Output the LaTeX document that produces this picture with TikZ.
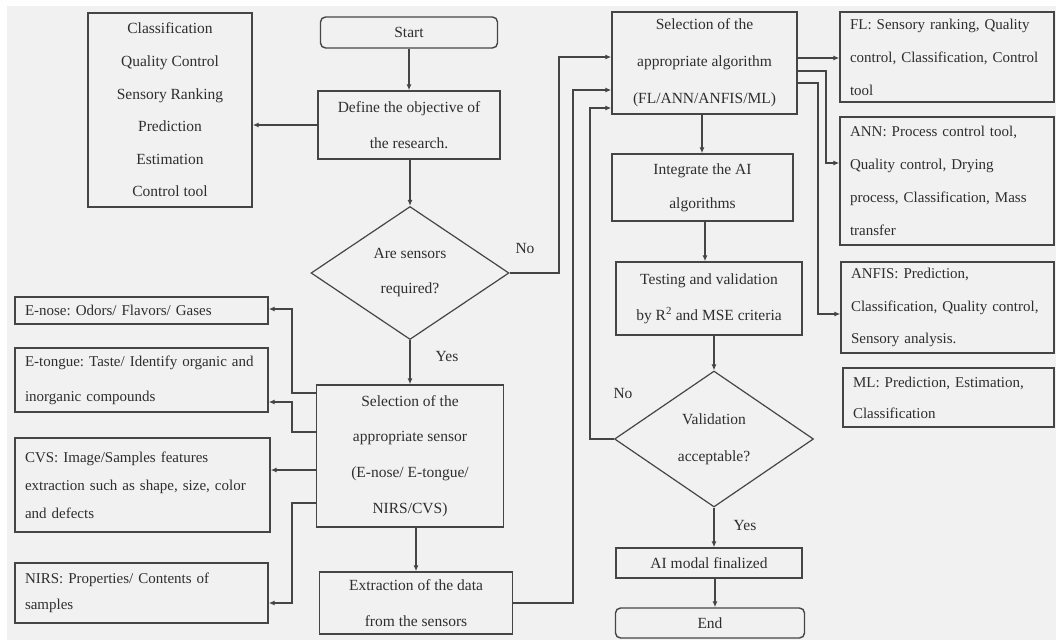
\documentclass[tikz,border=0pt]{standalone}
\usepackage{fontspec}
\setmainfont{Liberation Serif}
\usetikzlibrary{shapes.geometric,arrows.meta}
\definecolor{bgc}{HTML}{F1F1F1}
\definecolor{linec}{HTML}{454545}
\definecolor{txtc}{HTML}{2E2E2E}
\frenchspacing
\hyphenpenalty=10000
\tikzset{
  lsp/.style={font=\fontsize{15.5}{#1}\selectfont},
  lspl/.style={font=\fontsize{15}{#1}\selectfont},
  box/.style={draw=linec, line width=1.4pt, rectangle, inner sep=0pt, text=txtc, align=center},
  lbox/.style={box, align=left, inner xsep=10pt},
  term/.style={box, rounded corners=5pt},
  dec/.style={draw=linec, line width=1.2pt, diamond, inner sep=0pt, text=txtc, align=center},
  arr/.style={draw=linec, line width=1.2pt, -{Latex[length=6pt,width=5pt]}},
  lab/.style={text=txtc, font=\fontsize{15.5}{18}\selectfont, inner sep=2pt}
}
\begin{document}
\begin{tikzpicture}[x=1pt,y=-1pt]
\fill[white] (0,0) rectangle (1056,640);
\fill[bgc] (7,6) rectangle (1056,640);
\useasboundingbox (0,0) rectangle (1056,640);

% left column
\node[box, lsp=32.6, minimum width=164pt, minimum height=194pt] (cls) at (170,110)
  {Classification\\Quality Control\\Sensory Ranking\\Prediction\\Estimation\\Control tool};
\node[term, lsp=18, minimum width=177pt, minimum height=31pt] (start) at (409,32.5) {Start};
\node[box, lsp=36, minimum width=182pt, minimum height=68pt] (define) at (409,125)
  {Define the objective of\\the research.};
\node[dec, lsp=35, minimum width=198pt, minimum height=133pt, aspect=1.49] (q1) at (410,273)
  {Are sensors\\required?};
\node[box, lsp=35.7, minimum width=187pt, minimum height=142pt] (sensor) at (410,456)
  {Selection of the\\appropriate sensor\\(E-nose/ E-tongue/\\NIRS/CVS)};
\node[box, lsp=36, minimum width=193pt, minimum height=62pt] (extract) at (416,603)
  {Extraction of the data\\from the sensors};

\node[lbox, lspl=18, text width=233pt, minimum height=27pt] (enose) at (141.5,310.5)
  {E-nose: Odors/ Flavors/ Gases};
\node[lbox, lspl=35, text width=233pt, minimum height=64pt] (etongue) at (141.5,380)
  {E-tongue: Taste/ Identify organic and\\inorganic compounds};
\node[lbox, lspl=28, text width=235pt, minimum height=94pt] (cvs) at (142.5,485)
  {CVS: Image/Samples features\\extraction such as shape, size, color\\and defects};
\node[lbox, lspl=26, text width=233pt, minimum height=60pt] (nirs) at (141.5,593)
  {NIRS: Properties/ Contents of\\samples};

% middle column
\node[box, lsp=37, minimum width=185pt, minimum height=102pt] (alg) at (704.5,63)
  {Selection of the\\appropriate algorithm\\(FL/ANN/ANFIS/ML)};
\node[box, lsp=34, minimum width=181pt, minimum height=67pt] (integ) at (702.5,187.5)
  {Integrate the AI\\algorithms};
\node[box, lsp=36, minimum width=186pt, minimum height=73pt] (test) at (709,298.5)
  {Testing and validation\\by R\textsuperscript{2} and MSE criteria};
\node[dec, lsp=37, minimum width=199pt, minimum height=136pt, aspect=1.46] (q2) at (714,439)
  {Validation\\acceptable?};
\node[box, lsp=18, minimum width=186pt, minimum height=30pt] (final) at (709,563)
  {AI modal finalized};
\node[term, lsp=18, minimum width=189pt, minimum height=30pt] (end) at (710,623) {End};

% right column
\node[lbox, lspl=33, text width=194pt, minimum height=90pt] (fl) at (947,57)
  {FL: Sensory ranking, Quality\\control, Classification, Control\\tool};
\node[lbox, lspl=33, text width=194pt, minimum height=128pt] (ann) at (947,181)
  {ANN: Process control tool,\\Quality control, Drying\\process, Classification, Mass\\transfer};
\node[lbox, lspl=32.5, text width=193pt, minimum height=91pt] (anfis) at (947.5,307.5)
  {ANFIS: Prediction,\\Classification, Quality control,\\Sensory analysis.};
\node[lbox, lspl=31, text width=191pt, minimum height=59pt] (ml) at (948.5,397.5)
  {ML: Prediction, Estimation,\\Classification};

% labels
\node[lab] (no1) at (525,248) {No};
\node[lab] (yes1) at (447,356) {Yes};
\node[lab] (no2) at (623,393) {No};
\node[lab] (yes2) at (745,525) {Yes};

% connectors
\draw[arr] (start) -- (define);
\draw[arr] (define.west) -- (cls.east |- define.west);
\draw[arr] (q1.north |- define.south) -- (q1.north);
\draw[arr] (q1.east) -- (559,273) -- (559,57) -- (alg.west |- 0,57);
\draw[arr] (q1.south) -- (sensor.north);
\draw[arr] (extract.north |- sensor.south) -- (extract.north);
\draw[arr] (extract.east) -- (573,603) -- (573,90) -- (alg.west |- 0,90);
\draw[arr] (q2.west) -- (590,439) -- (590,108) -- (alg.west |- 0,108);
\draw[arr] (alg.south -| 702,0) -- (integ.north -| 702,0);
\draw[arr] (integ.south -| 705,0) -- (test.north -| 705,0);
\draw[arr] (test.south -| q2.north) -- (q2.north);
\draw[arr] (q2.south) -- (final.north -| q2.south);
\draw[arr] (final.south -| 715,0) -- (end.north -| 715,0);

\draw[arr] (alg.east |- 0,58) -- (fl.west |- 0,58);
\draw[arr] (alg.east |- 0,71) -- (826,71) -- (826,163) -- (ann.west |- 0,163);
\draw[arr] (alg.east |- 0,83) -- (818,83) -- (818,314) -- (anfis.west |- 0,314);

\draw[arr] (sensor.west |- 0,393) -- (292,393) -- (292,309) -- (enose.east |- 0,309);
\draw[arr] (sensor.west |- 0,432) -- (292,432) -- (292,402) -- (etongue.east |- 0,402);
\draw[arr] (sensor.west |- 0,470) -- (cvs.east |- 0,470);
\draw[arr] (sensor.west |- 0,503) -- (292,503) -- (292,603) -- (nirs.east |- 0,603);
\end{tikzpicture}
\end{document}
